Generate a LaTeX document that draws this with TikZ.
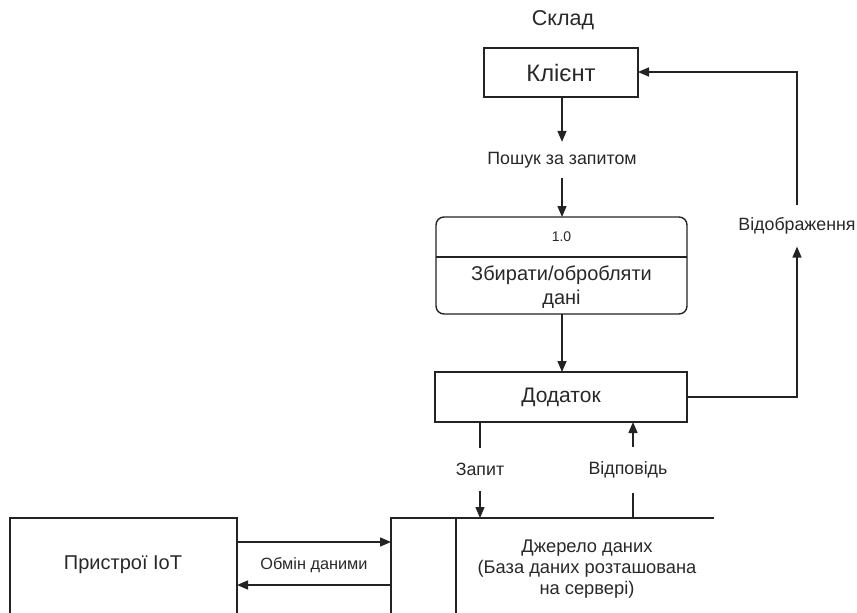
\documentclass[tikz,border=0pt]{standalone}
\usepackage{fontspec}
\setmainfont{Liberation Sans}
\usetikzlibrary{arrows.meta}
\definecolor{ink}{RGB}{35,35,35}
\definecolor{txt}{RGB}{40,40,40}
\tikzset{
  boxnode/.style={draw=ink, line width=1.4pt, fill=white, inner sep=0pt, text=txt},
  lbl/.style={text=txt, font=\fontsize{17.8}{20}\selectfont, inner sep=0pt, fill=white},
  flow/.style={draw=ink, line width=1.4pt},
  arr/.style={flow, -{Triangle[length=11pt,width=9pt]}},
  big/.style={font=\fontsize{20}{24}\selectfont},
}
\begin{document}
\begin{tikzpicture}[x=1pt,y=-1pt]
\useasboundingbox (0,0) rectangle (857,613);
% title
\node[text=txt, font=\fontsize{21.5}{25}\selectfont] (sklad) at (563,20) {Склад};
% client
\node[boxnode, minimum width=154pt, minimum height=49pt, font=\fontsize{23.8}{28}\selectfont] (client) at (561,72.5) {Клієнт};
% process
\node[boxnode, rounded corners=8pt, minimum width=251pt, minimum height=97pt] (proc) at (561.5,265.5) {};
\coordinate (divL) at (436,257);
\coordinate (divR) at (687,257);
\draw[flow] (divL) -- (divR);
\node[text=txt, font=\fontsize{14}{16}\selectfont] (pnum) at (561.5,237) {1.0};
\node[text=txt, big, align=center] (ptext) at (561.5,287) {Збирати/обробляти\\дані};
% app
\node[boxnode, minimum width=252pt, minimum height=50pt, font=\fontsize{21}{25}\selectfont] (app) at (561,397) {Додаток};
% IoT box (cut by the bottom edge)
\coordinate (iotBL) at (10,620);
\coordinate (iotTL) at (10,518);
\coordinate (iotTR) at (237,518);
\coordinate (iotBR) at (237,620);
\draw[flow] (iotBL) -- (iotTL) -- (iotTR) -- (iotBR);
\node[text=txt, big] (iot) at (123,565) {Пристрої IoT};
% data store (open)
\coordinate (dsBL) at (391,620);
\coordinate (dsTL) at (391,518);
\coordinate (dsTR) at (714,518);
\coordinate (dsIT) at (456,518);
\coordinate (dsIB) at (456,620);
\draw[flow] (dsBL) -- (dsTL) -- (dsTR);
\draw[flow] (dsIT) -- (dsIB);
\node[text=txt, font=\fontsize{18.3}{20.8}\selectfont, align=center] (ds) at (587,569) {Джерело даних\\(База даних розташована\\на сервері)};
% search flow
\coordinate (cS) at (562,97);
\node[lbl, inner ysep=10pt] (search) at (562,160) {Пошук за запитом};
\coordinate (pN) at (562,217);
\coordinate (pS) at (562,314);
\coordinate (aN) at (562,372);
\draw[arr] (cS) -- (search);
\draw[arr] (search) -- (pN);
\draw[arr] (pS) -- (aN);
% display flow
\node[lbl, inner ysep=12pt] (disp) at (797,226) {Відображення};
\coordinate (aE) at (687,397);
\coordinate (cE) at (638,72);
\draw[arr] (aE) -| (disp);
\draw[arr] (disp) |- (cE);
% request / response
\node[lbl, inner ysep=15pt] (req) at (480,469) {Запит};
\coordinate (reqTop) at (480,422);
\coordinate (reqBot) at (480,518);
\draw[flow] (reqTop) -- (req);
\draw[arr] (req) -- (reqBot);
\node[lbl, inner ysep=15pt] (resp) at (628,470) {Відповідь};
\coordinate (respTop) at (633,422);
\coordinate (respBot) at (633,518);
\draw[flow] (respBot) -- (respBot |- resp.south);
\draw[arr] (respTop |- resp.north) -- (respTop);
% exchange
\node[text=txt, font=\fontsize{16.3}{19}\selectfont] (ex) at (314,565) {Обмін даними};
\coordinate (exR1) at (391,542);
\coordinate (exL1) at (237,542);
\coordinate (exR2) at (391,585);
\coordinate (exL2) at (237,585);
\draw[arr] (exL1) -- (exR1);
\draw[arr] (exR2) -- (exL2);
\end{tikzpicture}
\end{document}
